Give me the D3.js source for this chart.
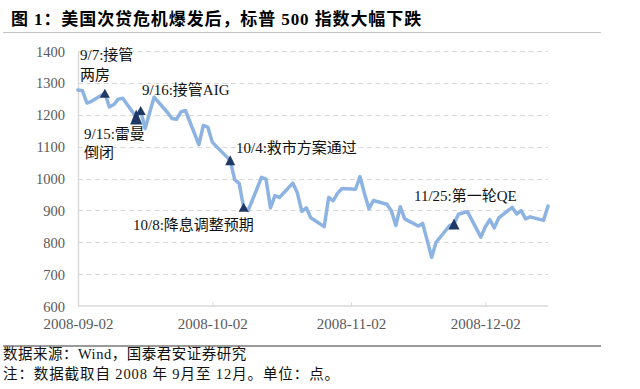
<!DOCTYPE html>
<html>
<head>
<meta charset="utf-8">
<script src="https://cdn.jsdelivr.net/npm/d3@7"></script>
<style>
  html, body { margin: 0; padding: 0; background: #fff; }
  svg { display: block; }
</style>
</head>
<body>
<svg id="chart" width="640" height="389"></svg>
<script>
// ---------- DATA ----------
const dates = [
  "2008-09-02","2008-09-03","2008-09-04","2008-09-05","2008-09-08","2008-09-09","2008-09-10","2008-09-11","2008-09-12",
  "2008-09-15","2008-09-16","2008-09-17","2008-09-18","2008-09-19","2008-09-22","2008-09-23","2008-09-24","2008-09-25","2008-09-26",
  "2008-09-29","2008-09-30","2008-10-01","2008-10-02","2008-10-03","2008-10-06","2008-10-07","2008-10-08","2008-10-09","2008-10-10",
  "2008-10-13","2008-10-14","2008-10-15","2008-10-16","2008-10-17","2008-10-20","2008-10-21","2008-10-22","2008-10-23","2008-10-24",
  "2008-10-27","2008-10-28","2008-10-29","2008-10-30","2008-10-31","2008-11-03","2008-11-04","2008-11-05","2008-11-06","2008-11-07",
  "2008-11-10","2008-11-11","2008-11-12","2008-11-13","2008-11-14","2008-11-17","2008-11-18","2008-11-19","2008-11-20","2008-11-21",
  "2008-11-24","2008-11-25","2008-11-26","2008-11-28","2008-12-01","2008-12-02","2008-12-03","2008-12-04","2008-12-05","2008-12-08",
  "2008-12-09","2008-12-10","2008-12-11","2008-12-12","2008-12-15","2008-12-16"
];
const spx = [
  1277.6,1275.0,1236.8,1242.3,1267.8,1224.5,1232.0,1249.1,1251.7,
  1192.7,1213.6,1156.4,1206.5,1255.1,1207.1,1188.2,1185.9,1209.2,1213.3,
  1106.4,1166.4,1161.1,1114.3,1099.2,1056.9,996.2,984.9,909.9,899.2,
  1003.4,998.0,907.8,946.4,940.6,985.4,955.1,896.8,908.1,876.8,
  848.9,940.5,930.1,954.1,968.8,966.3,1005.8,952.8,904.9,931.0,
  919.2,899.0,852.3,911.3,873.3,850.8,859.1,806.6,752.4,800.0,
  851.8,857.4,887.7,896.2,816.2,848.8,870.7,845.2,876.1,909.7,
  888.7,899.2,873.6,879.7,868.6,913.2
];
const yTicks = [600,700,800,900,1000,1100,1200,1300,1400];
const xTickDates = ["2008-09-02","2008-10-02","2008-11-02","2008-12-02"];

// event markers: date of point, label lines
const eventDates  = ["2008-09-08","2008-09-15","2008-09-16","2008-10-06","2008-10-09","2008-11-25"];
const eventLabels = [
  ["9/7:接管","两房"],
  ["9/15:雷曼","倒闭"],
  ["9/16:接管AIG"],
  ["10/4:救市方案通过"],
  ["10/8:降息调整预期"],
  ["11/25:第一轮QE"]
];

const titleText = "图 1：美国次贷危机爆发后，标普 500 指数大幅下跌";
const sourceText = "数据来源：Wind，国泰君安证券研究";
const noteText = "注：数据截取自 2008 年 9月至 12月。单位：点。";

// ---------- LAYOUT / STYLE ----------
const parse = d3.utcParse("%Y-%m-%d");
const serif = "'Liberation Serif','Times New Roman','Noto Sans CJK SC',serif";
const plot = {left: 78, right: 548, top: 51, bottom: 306};
const lineColor = "#8db3e2";
const markerColor = "#1f3864";
const textGray = "#595959";

const labelPos = [
  {x: 80,  y: 60, lh: 20},
  {x: 84,  y: 139, lh: 19},
  {x: 142, y: 95, lh: 19},
  {x: 236, y: 153, lh: 19},
  {x: 133, y: 230, lh: 19},
  {x: 414, y: 201, lh: 19}
];
const markerSize = [[10,9],[12,15],[10,9],[10,10],[10,9],[11,11]];

const svg = d3.select("#chart");
svg.append("rect").attr("width",640).attr("height",389).attr("fill","#fff");

const x = d3.scaleUtc()
  .domain([parse("2008-09-02"), parse("2008-12-16")])
  .range([plot.left, plot.right]);
const y = d3.scaleLinear().domain([600,1400]).range([plot.bottom, plot.top]);

// Title
svg.append("text")
  .attr("x", 11).attr("y", 25)
  .attr("font-family", serif).attr("font-size", 17).attr("font-weight", "bold")
  .attr("letter-spacing", 0.9)
  .attr("fill", "#000")
  .text(titleText);
svg.append("line").attr("x1",3).attr("x2",601).attr("y1",32.5).attr("y2",32.5)
  .attr("stroke","#c4c4c4").attr("stroke-width",1);

// gridlines
svg.append("g").selectAll("line").data(yTicks.filter(v => v !== 600)).join("line")
  .attr("x1", plot.left).attr("x2", plot.right)
  .attr("y1", d => Math.round(y(d)) + 0.5).attr("y2", d => Math.round(y(d)) + 0.5)
  .attr("stroke", "#d9d9d9").attr("stroke-width", 1).attr("stroke-dasharray", "5,3.5");

// y axis
const yAxis = d3.axisLeft(y).tickValues(yTicks).tickSize(0).tickPadding(13).tickFormat(d3.format("d"));
const gy = svg.append("g").attr("transform", `translate(${plot.left},0)`).call(yAxis);
gy.select(".domain").attr("stroke", "#d9d9d9").attr("stroke-width", 1.5);
gy.selectAll("text").attr("font-family", serif).attr("font-size", 14.5).attr("fill", textGray).attr("dy","0.35em");

// x axis
const xAxis = d3.axisBottom(x).tickValues(xTickDates.map(parse)).tickSize(-4).tickPadding(12)
  .tickFormat(d3.utcFormat("%Y-%m-%d"));
const gx = svg.append("g").attr("transform", `translate(0,${plot.bottom})`).call(xAxis);
gx.select(".domain").attr("stroke", "#d9d9d9").attr("stroke-width", 1.5).attr("d", `M${plot.left},0H${plot.right}`);
gx.selectAll(".tick line").attr("stroke", "#d9d9d9");
gx.selectAll("text").attr("font-family", serif).attr("font-size", 15).attr("fill", textGray).attr("dy","0.71em");

// line
const pts = dates.map((d,i) => ({date: parse(d), v: spx[i]}));
svg.append("path").datum(pts)
  .attr("fill","none").attr("stroke", lineColor).attr("stroke-width", 3.5)
  .attr("stroke-linejoin","round").attr("stroke-linecap","round")
  .attr("d", d3.line().x(d => x(d.date)).y(d => y(d.v)));

// markers
const valueByDate = new Map(dates.map((d,i) => [d, spx[i]]));
eventDates.forEach((d,i) => {
  const cx = x(parse(d)), cy = y(valueByDate.get(d));
  const [w,h] = markerSize[i];
  svg.append("path")
    .attr("d", `M${cx},${cy - h/2}L${cx + w/2},${cy + h/2}L${cx - w/2},${cy + h/2}Z`)
    .attr("fill", markerColor);
});

// labels
eventLabels.forEach((lines,i) => {
  const p = labelPos[i];
  const t = svg.append("text").attr("font-family", serif).attr("font-size", 15).attr("fill", "#111");
  lines.forEach((s,j) => t.append("tspan").attr("x", p.x).attr("y", p.y + j*p.lh).text(s));
});

// footer
svg.append("line").attr("x1",3).attr("x2",601).attr("y1",346).attr("y2",346)
  .attr("stroke","#9a9a9a").attr("stroke-width",2);
svg.append("text").attr("x",3).attr("y",359).attr("letter-spacing",0.5)
  .attr("font-family", serif).attr("font-size", 14.5).attr("fill","#111").text(sourceText);
svg.append("text").attr("x",3).attr("y",379).attr("letter-spacing",0.9)
  .attr("font-family", serif).attr("font-size", 14.5).attr("fill","#111").text(noteText);
</script>
</body>
</html>
